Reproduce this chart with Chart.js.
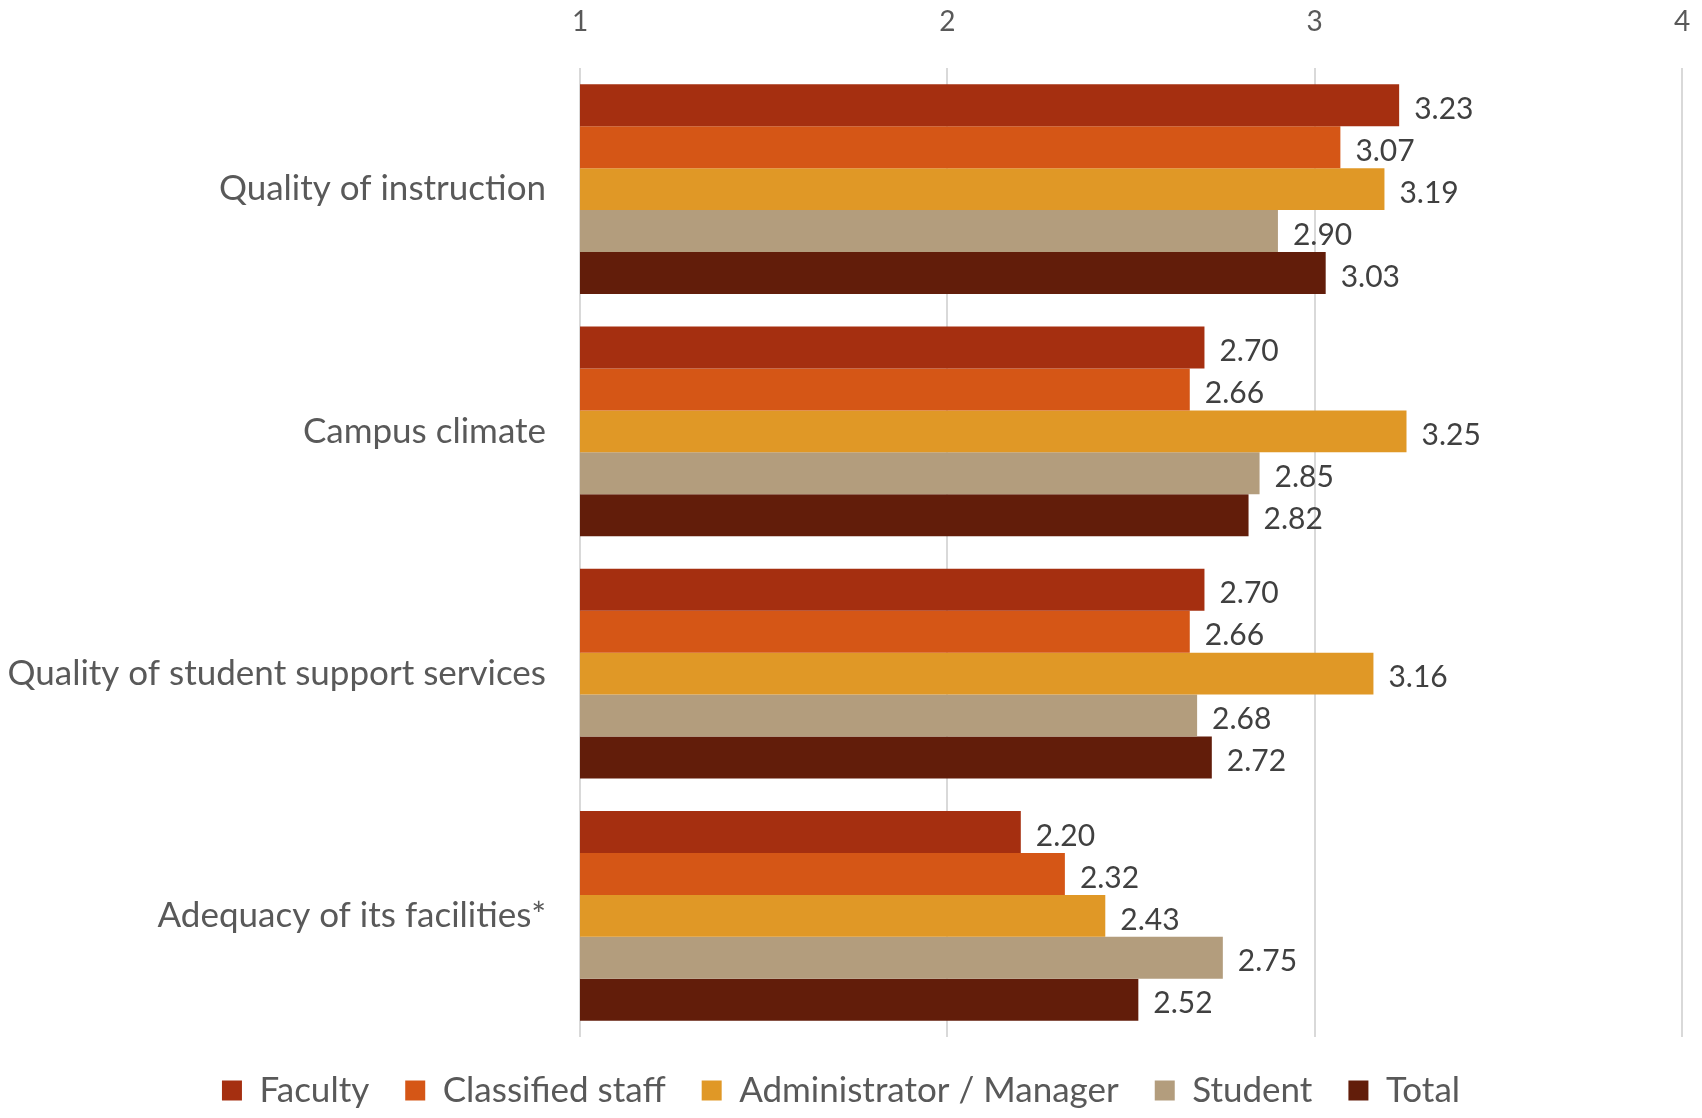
<!DOCTYPE html>
<html>
<head>
<meta charset="utf-8">
<title>Perceptions by group</title>
<script src="https://cdn.jsdelivr.net/npm/chart.js@4/dist/chart.umd.min.js"></script>
<style>
  html, body { margin: 0; padding: 0; background: #fff; }
  #wrap { width: 1702px; height: 1118px; }
</style>
</head>
<body>
<div id="wrap"><canvas id="myChart"></canvas></div>
<script>
const categories = ['Quality of instruction', 'Campus climate', 'Quality of student support services', 'Adequacy of its facilities*']
const seriesNames = ['Faculty', 'Classified staff', 'Administrator / Manager', 'Student', 'Total']
const faculty = [3.23, 2.70, 2.70, 2.20]
const classified = [3.07, 2.66, 2.66, 2.32]
const admin = [3.19, 3.25, 3.16, 2.43]
const student = [2.90, 2.85, 2.68, 2.75]
const total = [3.03, 2.82, 2.72, 2.52]
const colors = ['#A52F10', '#D55616', '#E09826', '#B39D7D', '#621D0A']

const font = 'Lato, "Open Sans", sans-serif'

// value labels just past the end of each bar
const valueLabels = {
  id: 'valueLabels',
  afterDatasetsDraw(chart) {
    const ctx = chart.ctx
    ctx.save()
    ctx.font = '30px ' + font
    ctx.fillStyle = '#404040'
    ctx.textBaseline = 'middle'
    ctx.textAlign = 'left'
    chart.data.datasets.forEach((ds, i) => {
      chart.getDatasetMeta(i).data.forEach((bar, j) => {
        ctx.fillText(ds.data[j].toFixed(2), bar.x + 15, bar.y + 4)
      })
    })
    ctx.restore()
  }
}

const sets = [faculty, classified, admin, student, total]

new Chart(document.getElementById('myChart'), {
  type: 'bar',
  data: {
    labels: categories,
    datasets: sets.map((d, i) => ({
      label: seriesNames[i],
      data: d,
      backgroundColor: colors[i],
      borderWidth: 0,
      barPercentage: 1,
      categoryPercentage: 0.865
    }))
  },
  options: {
    indexAxis: 'y',
    responsive: true,
    maintainAspectRatio: false,
    animation: false,
    layout: { padding: { top: 0, right: 20, left: 0, bottom: 0 } },
    plugins: {
      tooltip: { enabled: false },
      legend: {
        position: 'bottom',
        labels: {
          font: { family: font, size: 35 },
          color: '#595959',
          boxWidth: 20,
          boxHeight: 20,
          padding: 36
        }
      }
    },
    scales: {
      x: {
        position: 'top',
        min: 1,
        max: 4,
        afterFit: (s) => {
          s.height = 68
          s.paddingLeft = 0
          s.paddingRight = 0
        },
        ticks: {
          stepSize: 1,
          font: { family: font, size: 28 },
          color: '#595959',
          padding: 29
        },
        grid: { color: '#D9D9D9', drawTicks: false, lineWidth: 2 },
        border: { display: false }
      },
      y: {
        afterFit: (s) => { s.width = 580 },
        ticks: {
          font: { family: font, size: 35 },
          color: '#595959',
          padding: 34
        },
        grid: { display: false, drawTicks: false },
        border: { display: false }
      }
    }
  },
  plugins: [valueLabels]
})
</script>
</body>
</html>
